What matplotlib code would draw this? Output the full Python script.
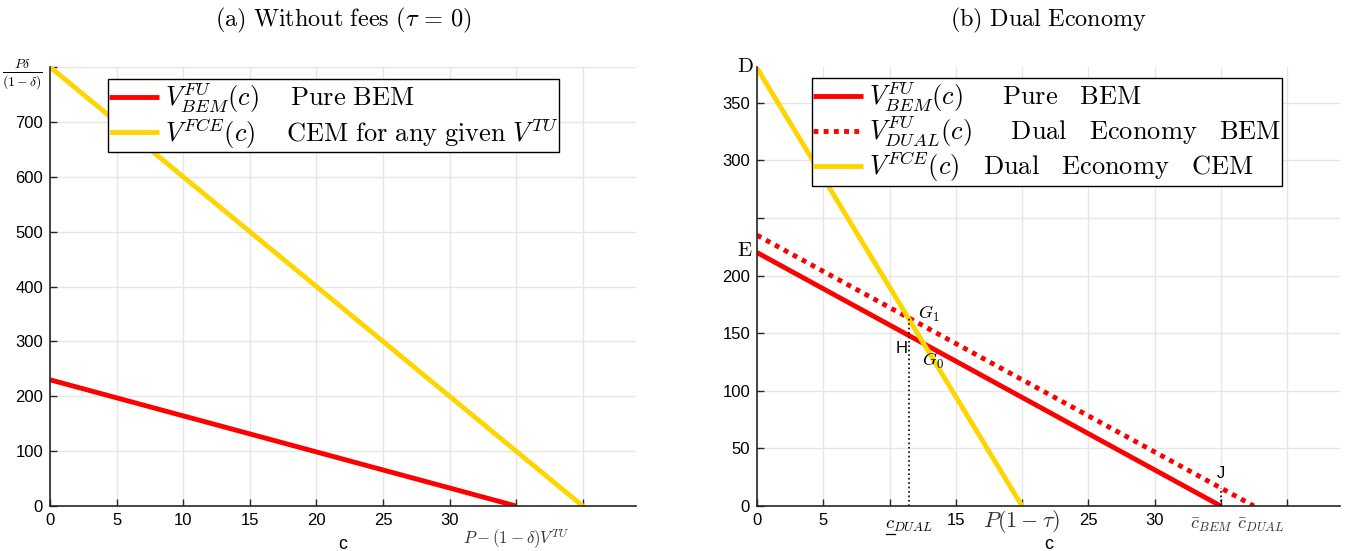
import matplotlib
matplotlib.use("Agg")
import matplotlib.pyplot as plt
import matplotlib.transforms as mtransforms

plt.rcParams['mathtext.fontset'] = 'cm'
plt.rcParams['font.family'] = ['Liberation Sans', 'DejaVu Sans']

# ---- data ----
# Panel (a): without fees
a_bem_c = [0, 35]
a_bem_v = [230, 0]
a_fce_c = [0, 40]
a_fce_v = [800, 0]
a_xticks = [0, 5, 10, 15, 20, 25, 30, 35, 40]
a_xticklabels = ['0', '5', '10', '15', '20', '25', '30', '', '']
a_yticks = [0, 100, 200, 300, 400, 500, 600, 700, 800]
a_yticklabels = ['0', '100', '200', '300', '400', '500', '600', '700', r'$\frac{P\delta}{(1-\delta)}$']

# Panel (b): dual economy
b_bem_c = [0, 35]
b_bem_v = [220, 0]
b_dual_c = [0, 37.5]
b_dual_v = [235, 0]
b_fce_c = [0, 20]
b_fce_v = [380, 0]
b_xticks = [0, 5, 10, 15, 20, 25, 30, 35, 40]
b_xticklabels = ['0', '5', '', '15', '', '25', '30', '', '']
b_yticks = [0, 50, 100, 150, 200, 250, 300, 350]
b_yticklabels = ['0', '50', '100', '150', '200', '', '300', '350']
c_dual_low = 11.5
g1_v = 163
c_bem_bar = 35
j_v = 15.7

RED = '#FF0000'
GOLD = '#FFD500'
SPINE = '#262626'
GRID = '#E6E6E6'

fig = plt.figure(figsize=(13.48, 5.51), dpi=100)
ax1 = fig.add_axes([50/1348, 1-506/551, (636-50)/1348, (506-67)/551])
ax2 = fig.add_axes([757/1348, 1-506/551, (1340-757)/1348, (506-67)/551])

def style(ax):
    for s in ['top', 'right']:
        ax.spines[s].set_visible(False)
    for s in ['left', 'bottom']:
        ax.spines[s].set_color(SPINE)
        ax.spines[s].set_linewidth(1.2)
    ax.grid(True, color=GRID, linewidth=1)
    ax.set_axisbelow(True)
    ax.tick_params(direction='in', length=5, width=1, colors=SPINE, labelsize=12,
                   labelcolor='black', pad=5)
    ax.set_xlabel('c', fontsize=13, va='center')
    ax.xaxis.set_label_coords(0.5, -0.087)

# ---- panel (a) ----
style(ax1)
ax1.plot(a_bem_c, a_bem_v, color=RED, lw=3.5, solid_capstyle='butt',
         label=r'$V^{FU}_{BEM}(c)\quad\ \mathrm{Pure\ BEM}$')
ax1.plot(a_fce_c, a_fce_v, color=GOLD, lw=3.5, solid_capstyle='butt',
         label=r'$V^{FCE}(c)\quad\ \mathrm{CEM\ for\ any\ given\ }V^{TU}$')
ax1.set_xlim(0, 44)
ax1.set_ylim(0, 800)
ax1.set_xticks(a_xticks)
ax1.set_xticklabels(a_xticklabels)
ax1.set_yticks(a_yticks)
ax1.set_yticklabels(a_yticklabels)
ax1.get_yticklabels()[-1].set_fontsize(14)
ax1.set_title(r'$\mathrm{(a)\ Without\ fees\ (}\tau\,=\,0\mathrm{)}$', fontsize=17.5, pad=29)
tr1 = mtransforms.blended_transform_factory(ax1.transData, ax1.transAxes)
ax1.text(35, -0.075, r'$P-(1-\delta)V^{TU}$', transform=tr1, ha='center', va='center',
         fontsize=12, color='#333333')
leg1 = ax1.legend(loc='upper left', bbox_to_anchor=(0.099, 0.972), fontsize=19,
                  frameon=True, fancybox=False, framealpha=1, edgecolor='black',
                  handlelength=1.9, handletextpad=0.2, borderpad=0.05, labelspacing=0.0,
                  borderaxespad=0)
leg1.get_frame().set_linewidth(1.0)

# ---- panel (b) ----
style(ax2)
ax2.plot(b_bem_c, b_bem_v, color=RED, lw=3.5, solid_capstyle='butt',
         label=r'$V^{FU}_{BEM}(c)\quad\ \ \mathrm{Pure\ \ \ BEM}$')
ax2.plot(b_dual_c, b_dual_v, color=RED, lw=3.5, linestyle=(0, (1, 1.1)),
         dash_capstyle='butt',
         label=r'$V^{FU}_{DUAL}(c)\quad\ \ \mathrm{Dual\ \ \ Economy\ \ \ BEM}$')
ax2.plot(b_fce_c, b_fce_v, color=GOLD, lw=3.5, solid_capstyle='butt',
         label=r'$V^{FCE}(c)\quad\mathrm{Dual\ \ \ Economy\ \ \ CEM}$')
ax2.plot([c_dual_low, c_dual_low], [0, g1_v], color='black', lw=1.2, linestyle=':')
ax2.plot([c_bem_bar, c_bem_bar], [0, j_v], color='black', lw=1.2, linestyle=':')
ax2.set_xlim(0, 44)
ax2.set_ylim(0, 381)
ax2.set_xticks(b_xticks)
ax2.set_xticklabels(b_xticklabels)
ax2.set_yticks(b_yticks)
ax2.set_yticklabels(b_yticklabels)
ax2.set_title(r'$\mathrm{(b)\ Dual\ Economy}$', fontsize=17.5, pad=29)
tr2 = mtransforms.blended_transform_factory(ax2.transData, ax2.transAxes)
ax2.text(11.5, -0.045, r'$c_{DUAL}$', transform=tr2, ha='center', va='center', fontsize=13.5)
ax2.add_line(plt.Line2D([9.75, 10.4], [-0.064, -0.064], transform=tr2, color='black',
                        lw=0.9, clip_on=False))
ax2.text(20, -0.036, r'$P(1-\tau)$', transform=tr2, ha='center', va='center', fontsize=16,
         color='#333333')
ax2.text(34.3, -0.043, r'$\bar{c}_{BEM}$', transform=tr2, ha='center', va='center', fontsize=13,
         color='#333333')
ax2.text(38.0, -0.043, r'$\bar{c}_{DUAL}$', transform=tr2, ha='center', va='center', fontsize=13,
         color='#333333')
ax2.text(-0.9, 381, r'$\mathrm{D}$', ha='center', va='center', fontsize=15)
ax2.text(-0.9, 222, r'$\mathrm{E}$', ha='center', va='center', fontsize=15)
ax2.text(13.0, 167, r'$G_1$', ha='center', va='center', fontsize=13)
ax2.text(13.3, 126, r'$G_0$', ha='center', va='center', fontsize=13)
ax2.text(10.95, 137, 'H', ha='center', va='center', fontsize=12)
ax2.text(35.0, 28, 'J', ha='center', va='center', fontsize=12)
leg2 = ax2.legend(loc='upper left', bbox_to_anchor=(0.094, 0.975), fontsize=19,
                  frameon=True, fancybox=False, framealpha=1, edgecolor='black',
                  handlelength=1.9, handletextpad=0.2, borderpad=0.05, labelspacing=0.0,
                  borderaxespad=0)
leg2.get_frame().set_linewidth(1.0)

fig.savefig('out.png', dpi=100)
